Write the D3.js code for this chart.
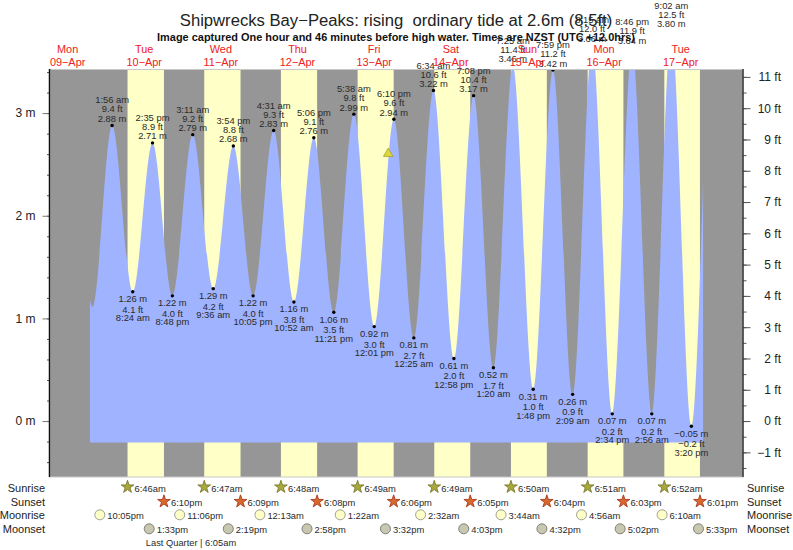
<!DOCTYPE html>
<html><head><meta charset="utf-8">
<script src="https://cdn.jsdelivr.net/npm/d3@7/dist/d3.min.js"></script>
<style>html,body{margin:0;background:#fff}svg{display:block}text{font-family:"Liberation Sans",Arial,sans-serif}</style>
</head><body><div id="chart"></div>
<script>
const titleText = "Shipwrecks Bay\u2212Peaks: rising  ordinary tide at 2.6m (8.5ft)";
const subtitleText = "Image captured One hour and 46 minutes before high water. Times are NZST (UTC +12.0hrs)";
const dayNames = ["Mon","Tue","Wed","Thu","Fri","Sat","Sun","Mon","Tue"];
const dayDates = ["04-09","04-10","04-11","04-12","04-13","04-14","04-15","04-16","04-17"];
const sunDays = ["04-10","04-11","04-12","04-13","04-14","04-15","04-16","04-17"];
const sunrises = ["06:46","06:47","06:48","06:49","06:49","06:50","06:51","06:52"];
const sunsets = ["18:10","18:09","18:08","18:06","18:05","18:04","18:03","18:01"];
const moonrises = ["04-09 22:05","04-10 23:06","04-12 00:13","04-13 01:22","04-14 02:32","04-15 03:44","04-16 04:56","04-17 06:10"];
const moonsets = ["04-10 13:33","04-11 14:19","04-12 14:58","04-13 15:32","04-14 16:03","04-15 16:32","04-16 17:02","04-17 17:33"];
const tideTimes = ["04-10 01:56","04-10 08:24","04-10 14:35","04-10 20:48","04-11 03:11","04-11 09:36","04-11 15:54","04-11 22:05","04-12 04:31","04-12 10:52","04-12 17:06","04-12 23:21","04-13 05:38","04-13 12:01","04-13 18:10","04-14 00:25","04-14 06:34","04-14 12:58","04-14 19:08","04-15 01:20","04-15 07:25","04-15 13:48","04-15 19:59","04-16 02:09","04-16 08:15","04-16 14:34","04-16 20:46","04-17 02:56","04-17 09:02","04-17 15:20"];
const tideMetres = [2.88,1.26,2.71,1.22,2.79,1.29,2.68,1.22,2.83,1.16,2.76,1.06,2.99,0.92,2.94,0.81,3.22,0.61,3.17,0.52,3.46,0.31,3.42,0.26,3.66,0.07,3.64,0.07,3.80,-0.05];
const tideFeet = [9.4,4.1,8.9,4.0,9.2,4.2,8.8,4.0,9.3,3.8,9.1,3.5,9.8,3.0,9.6,2.7,10.6,2.0,10.4,1.7,11.4,1.0,11.2,0.9,12.0,0.2,11.9,0.2,12.5,-0.2];
const curveStartTimes = ["04-09 19:00","04-09 19:48"];
const curveStartMetres = [1.18,1.11];
const curveEndTime = "04-17 19:00";
const curveEndMetre = 2.32;
const tideFloor = -0.21;
const nowTime = "04-13 16:24";
const nowMetre = 2.6;
const metreTicks = [0,1,2,3];
const metreMinor = [-0.4,-0.2,0,0.2,0.4,0.6,0.8,1,1.2,1.4,1.6,1.8,2,2.2,2.4,2.6,2.8,3,3.2,3.4];
const feetTicks = [-1,0,1,2,3,4,5,6,7,8,9,10,11];
const feetMinor = [-1.5,-1,-0.5,0,0.5,1,1.5,2,2.5,3,3.5,4,4.5,5,5.5,6,6.5,7,7.5,8,8.5,9,9.5,10,10.5,11];
const moonPhaseText = "Last Quarter | 6:05am";
const moonPhaseTime = "04-11 06:05";

const W=793,H=550,L=50,R=743,T=70,B=477;
const parse=d3.utcParse("%m-%d %H:%M");
const minus=s=>String(s).replace("-","\u2212");
const x=d3.scaleUtc().domain([parse("04-09 06:29"),parse("04-18 07:30")]).range([L,R]);
const yM=d3.scaleLinear().domain([-0.545,3.42]).range([B,T]);
const yF=d3.scaleLinear().domain(yM.domain().map(d=>d/0.3048)).range([B,T]);
const svg=d3.select("#chart").append("svg").attr("width",W).attr("height",H).attr("viewBox",`0 0 ${W} ${H}`);
const defs=svg.append("defs");
defs.append("clipPath").attr("id","plot").append("rect").attr("x",L).attr("y",T-1).attr("width",R-L).attr("height",B-T+1);

// night + day bands
svg.append("rect").attr("x",L).attr("y",T).attr("width",R-L).attr("height",B-T).attr("fill","#969696");
svg.append("g").selectAll("rect").data(sunDays).join("rect")
 .attr("x",(d,i)=>x(parse(d+" "+sunrises[i])))
 .attr("width",(d,i)=>x(parse(d+" "+sunsets[i]))-x(parse(d+" "+sunrises[i])))
 .attr("y",T).attr("height",B-T).attr("fill","#ffffc8");

// water
const curvePts=[
 ...curveStartTimes.map((t,i)=>({t:parse(t),v:curveStartMetres[i]})),
 ...tideTimes.map((t,i)=>({t:parse(t),v:tideMetres[i]})),
 {t:parse(curveEndTime),v:curveEndMetre}];
const area=d3.area().x(d=>x(d.t)).y0(yM(tideFloor)).y1(d=>yM(d.v)).curve(d3.curveMonotoneX);
const pg=svg.append("g").attr("clip-path","url(#plot)");
pg.append("path").datum(curvePts).attr("d",area).attr("fill","#9fb3ff");
pg.selectAll("circle").data(tideTimes).join("circle")
 .attr("cx",d=>x(parse(d))).attr("cy",(d,i)=>yM(tideMetres[i])).attr("r",1.7).attr("fill","#000");

// plot frame
svg.append("rect").attr("x",L).attr("y",T-0.5).attr("width",R-L).attr("height",B-T+0.5).attr("fill","none").attr("stroke","#c8c8c8").attr("stroke-width",1);

// axes
function styleAxis(g,col){g.select(".domain").remove();g.selectAll("line").attr("stroke",col);g.selectAll("text").attr("font-size",12).attr("fill","#222");}
svg.append("g").attr("transform",`translate(${L},0)`).call(d3.axisLeft(yM).tickValues(metreMinor).tickSize(3).tickFormat("")).call(g=>styleAxis(g,"#555"));
svg.append("g").attr("transform",`translate(${L},0)`).call(d3.axisLeft(yM).tickValues(metreTicks).tickSize(7.5).tickPadding(7).tickFormat(d=>d+" m")).call(g=>styleAxis(g,"#777"));
svg.append("g").attr("transform",`translate(${R},0)`).call(d3.axisRight(yF).tickValues(feetMinor).tickSize(3.5).tickFormat("")).call(g=>styleAxis(g,"#555"));
svg.append("g").attr("transform",`translate(${R},0)`).call(d3.axisRight(yF).tickValues(feetTicks).tickSize(7.5).tickPadding(1).tickFormat(d=>minus(d)+" ft"))
 .call(g=>styleAxis(g,"#555")).call(g=>g.selectAll("text").attr("text-anchor","end").attr("x",38));
svg.append("line").attr("x1",L-0.5).attr("x2",L-0.5).attr("y1",T-1).attr("y2",B).attr("stroke","#111").attr("stroke-width",1.5);
svg.append("line").attr("x1",R).attr("x2",R).attr("y1",T-1).attr("y2",B).attr("stroke","#333").attr("stroke-width",1.5);

// tide labels
const clock=d3.utcFormat("%-I:%M %p");
const fmtClock=d=>clock(d).toLowerCase();
const labels=svg.append("g").attr("font-size",9.4).attr("fill","#2a2a2a").attr("text-anchor","middle");
tideTimes.forEach((t,i)=>{
 const d=parse(t),cx=x(d),cy=yM(tideMetres[i]),high=i%2===0;
 const mText=minus(tideMetres[i].toFixed(2))+" m", fText=minus(tideFeet[i].toFixed(1))+" ft";
 const rows=high?[fmtClock(d),fText,mText]:[mText,fText,fmtClock(d)];
 const offs=high?[-22,-13,-3.5]:[10.5,21,29.5];
 rows.forEach((r,j)=>labels.append("text").attr("x",cx).attr("y",cy+offs[j]).text(r));
});

// now marker
svg.append("path").attr("d",d3.symbol(d3.symbolTriangle,40)).attr("transform",`translate(${x(parse(nowTime))},${yM(nowMetre)-0.5})`)
 .attr("fill","#dcd83c").attr("stroke","#a89a20").attr("stroke-width",0.7);

// titles
svg.append("text").attr("x",396).attr("y",26).attr("text-anchor","middle").attr("font-size",16.65).attr("fill","#222").style("white-space","pre").text(titleText);
svg.append("text").attr("x",396).attr("y",41).attr("text-anchor","middle").attr("font-size",10.95).attr("font-weight","bold").attr("fill","#111").text(subtitleText);
const noon=d=>x(parse(d+" 12:00"));
svg.append("g").selectAll("text").data(dayNames).join("text").attr("x",(d,i)=>noon(dayDates[i])).attr("y",53).attr("text-anchor","middle").attr("font-size",10.9).attr("fill","#f02020").text(d=>d);
const dayFmt=d3.utcFormat("%d-%b");
svg.append("g").selectAll("text").data(dayDates).join("text").attr("x",d=>noon(d)).attr("y",66).attr("text-anchor","middle").attr("font-size",10.9).attr("fill","#f02020").text(d=>minus(dayFmt(parse(d+" 12:00"))));

// bottom rows
const rowNames=["Sunrise","Sunset","Moonrise","Moonset"], rowY=[491.5,505.5,519,533];
rowNames.forEach((n,i)=>{
 svg.append("text").attr("x",45).attr("y",rowY[i]).attr("text-anchor","end").attr("font-size",11).attr("fill","#222").text(n);
 svg.append("text").attr("x",747).attr("y",rowY[i]).attr("font-size",11).attr("fill","#222").text(n);
});
const t12=d3.utcFormat("%-I:%M%p"), fmtT=d=>t12(d).toLowerCase();
function starRow(vals,i,fill,stroke,dy){
 const g=svg.append("g");
 vals.forEach(d=>{
  g.append("path").attr("d",d3.symbol(d3.symbolStar,50)).attr("transform",`translate(${x(d)},${dy})`).attr("fill",fill).attr("stroke",stroke).attr("stroke-width",0.9);
  g.append("text").attr("x",x(d)+7).attr("y",rowY[i]).attr("font-size",9.4).attr("fill","#2a2a2a").text(fmtT(d));
 });
}
starRow(sunDays.map((d,i)=>parse(d+" "+sunrises[i])),0,"#a8a83c","#7a7a30",487);
starRow(sunDays.map((d,i)=>parse(d+" "+sunsets[i])),1,"#d9682c","#a83a20",501.5);
function moonRow(vals,i,fill,stroke,cy){
 const g=svg.append("g");
 vals.forEach(s=>{const d=parse(s);
  g.append("circle").attr("cx",x(d)).attr("cy",cy).attr("r",5).attr("fill",fill).attr("stroke",stroke).attr("stroke-width",1);
  g.append("text").attr("x",x(d)+7.5).attr("y",rowY[i]).attr("font-size",9.4).attr("fill","#2a2a2a").text(fmtT(d));
 });
}
moonRow(moonrises,2,"#ffffc8","#a0a090",514.8);
moonRow(moonsets,3,"#c8c8b0","#808078",528.8);
svg.append("text").attr("x",x(parse(moonPhaseTime))-11).attr("y",545.5).attr("text-anchor","middle").attr("font-size",9.3).attr("fill","#2a2a2a").text(moonPhaseText);
</script></body></html>
